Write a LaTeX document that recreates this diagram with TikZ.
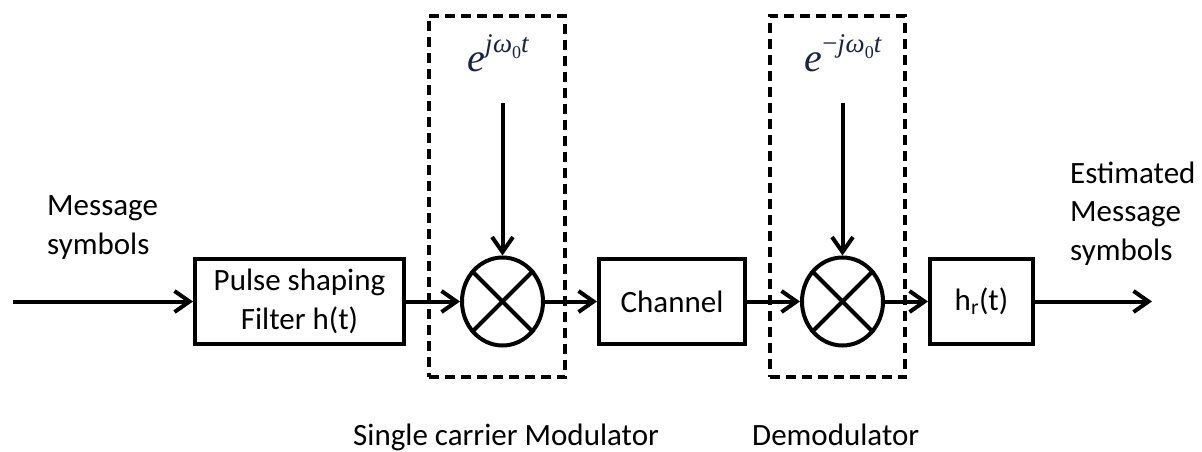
\documentclass[tikz,border=0pt]{standalone}
\usepackage{fontspec}
\setmainfont{Carlito}
\newfontfamily\expfont{Liberation Serif}
\usetikzlibrary{arrows.meta,shapes.geometric}
\definecolor{expblue}{RGB}{28,34,68}
\newcommand\mainfs{\fontsize{31}{38.5}\selectfont}
% carrier exponential  e^{<sign> j omega_0 t}
\newcommand\carrier[1]{{\expfont\fontsize{40}{44}\selectfont\itshape e\raisebox{0.48em}{\fontsize{27}{30}\selectfont\upshape#1\itshape j\kern0.5pt ω\raisebox{-0.22em}{\fontsize{18}{20}\selectfont\upshape 0}t}}}
\begin{document}
\begin{tikzpicture}[x=1pt,y=-1pt,
  blockbox/.style={draw, line width=4pt, inner sep=0pt, minimum height=85pt, font=\mainfs, align=center},
  mixer/.style={draw, ellipse, line width=4pt, inner sep=0pt, minimum width=81pt, minimum height=88pt},
  flow/.style={line width=4pt, -{Straight Barb[length=15pt,width=21pt]}},
  groupbox/.style={draw, dash pattern=on 10pt off 6pt, line width=3.6pt, inner sep=0pt},
  txt/.style={inner sep=0pt, font=\mainfs, align=left},
  exptxt/.style={inner sep=0pt, text=expblue}]
\useasboundingbox (0,0) rectangle (1202,452);

% dashed outlines of the modulator and demodulator stages
\node[groupbox, minimum width=136.5pt, minimum height=361.5pt] (modgrp) at (497,196.5) {};
\node[groupbox, minimum width=135.5pt, minimum height=361.5pt] (demgrp) at (837.5,196.5) {};

% processing blocks
\node[blockbox, minimum width=209pt] (pulse) at (299.5,301.5) {Pulse shaping\\Filter h(t)};
\node[mixer] (m1) at (502.5,301.5) {};
\node[blockbox, minimum width=146pt] (chan) at (672,301.5) {Channel};
\node[mixer] (m2) at (842.5,301.5) {};
\node[blockbox, minimum width=103pt] (hr) at (981.5,301.5) {h\textsubscript{r}(t)};

% multiplier crosses
\foreach \m in {m1,m2}{
  \draw[line width=4pt] (\m.45) -- (\m.225);
  \draw[line width=4pt] (\m.135) -- (\m.315);
}

% carrier terms
\node[exptxt, anchor=base] (e1) at (498,72) {\carrier{}};
\node[exptxt, anchor=base] (e2) at (843,72) {\carrier{−}};
\coordinate (c1) at (502.5,103);
\coordinate (c2) at (842.5,103);

% signal path
\coordinate (in) at (13,301.5);
\coordinate (out) at (1152,301.5);
\draw[flow] (in) -- (pulse);
\draw[flow] (pulse) -- (m1);
\draw[flow] (m1) -- (chan);
\draw[flow] (chan) -- (m2);
\draw[flow] (m2) -- (hr);
\draw[flow] (hr) -- (out);
\draw[flow] (c1) -- (m1);
\draw[flow] (c2) -- (m2);

% labels (a multi-line node's base is its last line)
\node[txt, anchor=base west] (msgin) at (47,254) {Message\\symbols};
\node[txt, anchor=base west] (msgout) at (1070,260) {Estimated\\Message\\symbols};
\node[txt, anchor=base west] (modlbl) at (353,445) {Single carrier Modulator};
\node[txt, anchor=base west] (demlbl) at (752,445) {Demodulator};
\end{tikzpicture}
\end{document}
